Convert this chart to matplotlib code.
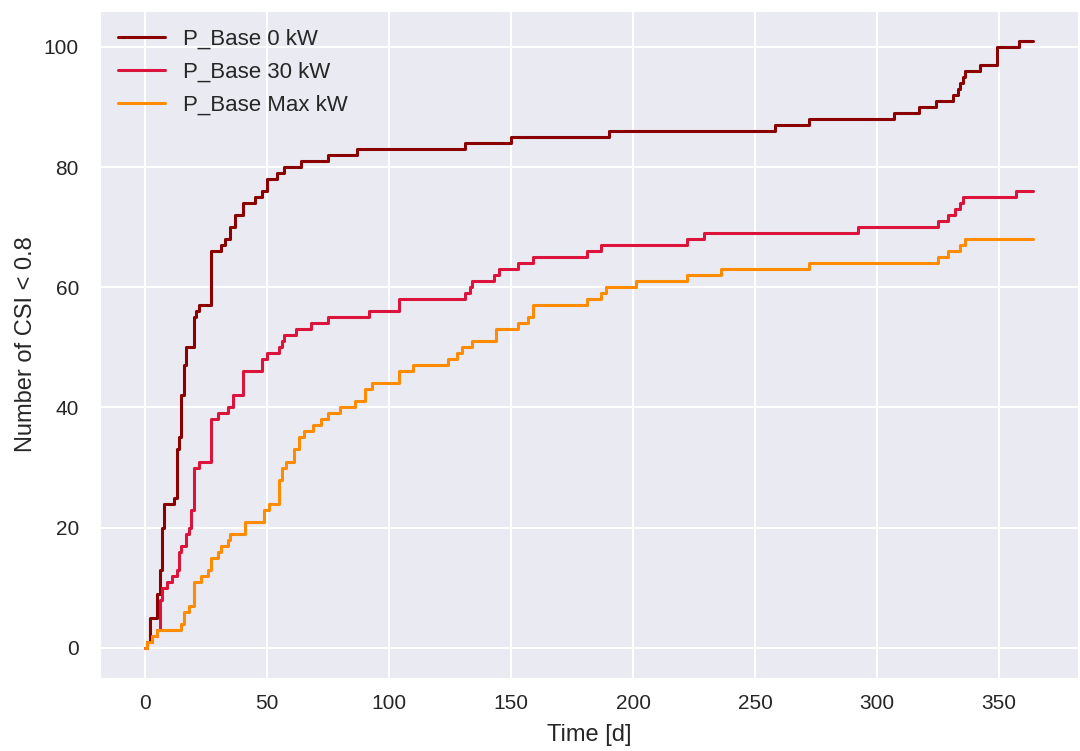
import matplotlib
matplotlib.use("Agg")
import matplotlib.pyplot as plt
import seaborn as sns

# change points (day, cumulative count)
days_0kw = [0, 1, 2, 5, 6, 7, 8, 12, 13, 14, 15, 16, 17, 20, 21, 22, 27, 31, 33, 35,
            37, 40, 45, 48, 50, 54, 57, 64, 75, 87, 131, 150, 190, 258, 272, 307, 317,
            324, 331, 333, 334, 335, 336, 342, 349, 358, 364]
count_0kw = [0, 1, 5, 9, 13, 20, 24, 25, 33, 35, 42, 47, 50, 55, 56, 57, 66, 67, 68, 70,
             72, 74, 75, 76, 78, 79, 80, 81, 82, 83, 84, 85, 86, 87, 88, 89, 90,
             91, 92, 93, 94, 95, 96, 97, 100, 101, 101]

days_30kw = [0, 1, 3, 5, 6, 7, 9, 11, 13, 14, 15, 17, 18, 19, 20, 22, 27, 30, 34, 36,
             40, 48, 50, 55, 56, 57, 62, 68, 75, 92, 104, 131, 133, 134, 143, 145, 153,
             159, 181, 187, 222, 229, 292, 325, 329, 332, 334, 335, 357, 364]
count_30kw = [0, 1, 2, 3, 8, 10, 11, 12, 13, 16, 17, 19, 20, 23, 30, 31, 38, 39, 40, 42,
              46, 48, 49, 50, 51, 52, 53, 54, 55, 56, 58, 59, 60, 61, 62, 63, 64,
              65, 66, 67, 68, 69, 70, 71, 72, 73, 74, 75, 76, 76]

days_max = [0, 1, 3, 5, 15, 16, 18, 20, 23, 26, 27, 30, 31, 34, 35, 41, 49, 51, 55, 56,
            58, 61, 63, 65, 69, 72, 75, 80, 86, 90, 93, 104, 110, 124, 128, 130, 134,
            144, 153, 157, 159, 181, 187, 189, 201, 222, 236, 272, 325, 329, 334, 336, 364]
count_max = [0, 1, 2, 3, 4, 6, 7, 11, 12, 13, 15, 16, 17, 18, 19, 21, 23, 24, 28, 30,
             31, 33, 35, 36, 37, 38, 39, 40, 41, 43, 44, 46, 47, 48, 49, 50, 51,
             53, 54, 55, 57, 58, 59, 60, 61, 62, 63, 64, 65, 66, 67, 68, 68]

labels = ["P_Base 0 kW", "P_Base 30 kW", "P_Base Max kW"]
colors = ["darkred", "crimson", "darkorange"]

sns.set_style("darkgrid")
plt.rcParams["font.family"] = ["Liberation Sans", "DejaVu Sans"]
plt.rcParams["grid.linewidth"] = 1.4

fig = plt.figure(figsize=(10.8, 7.51), dpi=100)
ax = fig.add_axes([0.093, 0.097, 0.905, 0.889])

series = [(days_0kw, count_0kw), (days_30kw, count_30kw), (days_max, count_max)]
for (d, c), lab, col in zip(series, labels, colors):
    ax.plot(d, c, drawstyle="steps-post", color=col, lw=2.2, label=lab)

ax.set_xticks(range(0, 351, 50))
ax.set_yticks(range(0, 101, 20))
ax.tick_params(labelsize=15, colors=".15")
ax.tick_params(axis="x", pad=8)
ax.tick_params(axis="y", pad=12)
ax.set_xlabel("Time [d]", fontsize=17, color=".15", labelpad=8)
ax.set_ylabel("Number of CSI < 0.8", fontsize=17, color=".15", labelpad=5)
ax.legend(loc="upper left", fontsize=16, frameon=False, handlelength=2.1,
          borderaxespad=0.4, labelspacing=0.55)

fig.savefig("out.png", dpi=100)
